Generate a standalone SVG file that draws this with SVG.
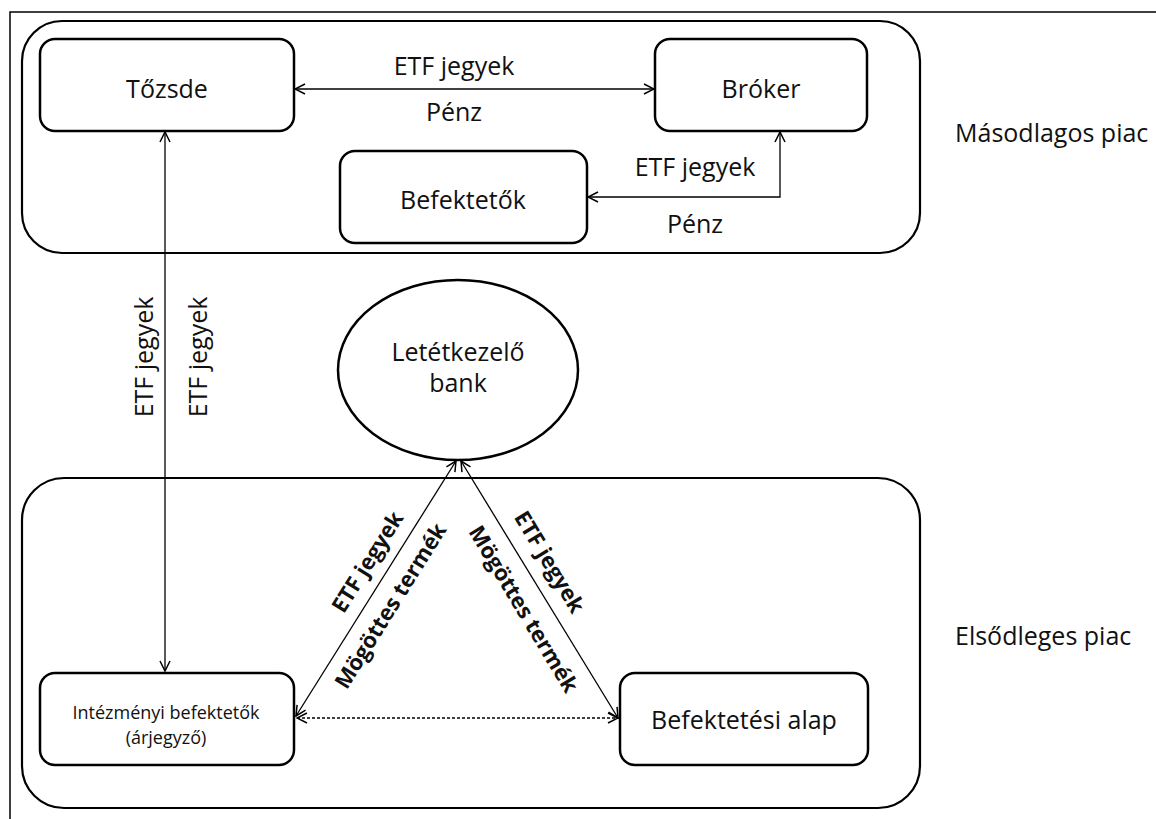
<svg xmlns="http://www.w3.org/2000/svg" width="1156" height="819" viewBox="0 0 1156 819">
  <defs>
    <marker id="arr" viewBox="0 0 12 12" refX="11" refY="6" markerWidth="12" markerHeight="12" markerUnits="userSpaceOnUse" orient="auto-start-reverse">
      <path d="M1,1 L11,6 L1,11" fill="none" stroke="#000" stroke-width="1.5"/>
    </marker>
    <style>
      .frame { fill: none; stroke: #000; stroke-width: 1.5; }
      .area { fill: #fff; stroke: #000; stroke-width: 2.2; }
      .box { fill: #fff; stroke: #000; stroke-width: 2.5; }
      .link { fill: none; stroke: #000; stroke-width: 1.3; marker-start: url(#arr); marker-end: url(#arr); }
      .dash { stroke-dasharray: 3 2; }
      text { font-family: "Open Sans", "Noto Sans", sans-serif; fill: #111; text-anchor: middle; }
      .t { font-size: 25px; }
      .s { font-size: 18px; }
      .b { font-size: 22px; font-weight: bold; }
      .l { text-anchor: start; }
    </style>
  </defs>
  <rect width="1156" height="819" fill="#fff"/>
  <!-- outer frame -->
  <path class="frame" d="M10,819 L10,12 L1156,12"/>

  <!-- market areas -->
  <g id="secondary-market">
    <rect class="area" x="22" y="21" width="898" height="232" rx="40"/>
    <text class="t l" x="955" y="142">Másodlagos piac</text>
  </g>
  <g id="primary-market">
    <rect class="area" x="22" y="478" width="898" height="330" rx="42"/>
    <text class="t l" x="955" y="645">Elsődleges piac</text>
  </g>

  <!-- connectors -->
  <g id="connectors">
    <line class="link" x1="295" y1="89" x2="654" y2="89"/>
    <polyline class="link" points="588,197 780,197 780,132"/>
    <line class="link" x1="165" y1="132" x2="165" y2="671"/>
    <line class="link" x1="296" y1="716" x2="456" y2="461"/>
    <line class="link" x1="461" y1="461" x2="618" y2="718"/>
    <line class="link dash" x1="297" y1="718" x2="618" y2="718"/>

    <text class="t" x="454" y="75">ETF jegyek</text>
    <text class="t" x="454" y="121">Pénz</text>
    <text class="t" x="695" y="176">ETF jegyek</text>
    <text class="t" x="695" y="233">Pénz</text>
    <text class="t" transform="translate(153,357) rotate(-90)">ETF jegyek</text>
    <text class="t" transform="translate(207,357) rotate(-90)">ETF jegyek</text>
    <text class="b" transform="translate(374,566) rotate(-58)">ETF jegyek</text>
    <text class="b" transform="translate(397,610) rotate(-58)">Mögöttes termék</text>
    <text class="b" transform="translate(543,566) rotate(59)">ETF jegyek</text>
    <text class="b" transform="translate(517,613) rotate(59)">Mögöttes termék</text>
  </g>

  <!-- nodes -->
  <g id="tozsde">
    <rect class="box" x="40" y="39" width="254" height="92" rx="15"/>
    <text class="t" x="167" y="98">Tőzsde</text>
  </g>
  <g id="broker">
    <rect class="box" x="655" y="39" width="212" height="92" rx="15"/>
    <text class="t" x="761" y="98">Bróker</text>
  </g>
  <g id="befektetok">
    <rect class="box" x="340" y="151" width="247" height="92" rx="15"/>
    <text class="t" x="463" y="209">Befektetők</text>
  </g>
  <g id="letetkezelo-bank">
    <ellipse class="box" cx="458" cy="370" rx="120" ry="90"/>
    <text class="t" x="458" y="361">Letétkezelő</text>
    <text class="t" x="458" y="392">bank</text>
  </g>
  <g id="intezmenyi-befektetok">
    <rect class="box" x="40" y="673" width="254" height="92" rx="15"/>
    <text class="s" x="166" y="719">Intézményi befektetők</text>
    <text class="s" x="166" y="744">(árjegyző)</text>
  </g>
  <g id="befektetesi-alap">
    <rect class="box" x="620" y="673" width="248" height="92" rx="15"/>
    <text class="t" x="744" y="729">Befektetési alap</text>
  </g>
</svg>
